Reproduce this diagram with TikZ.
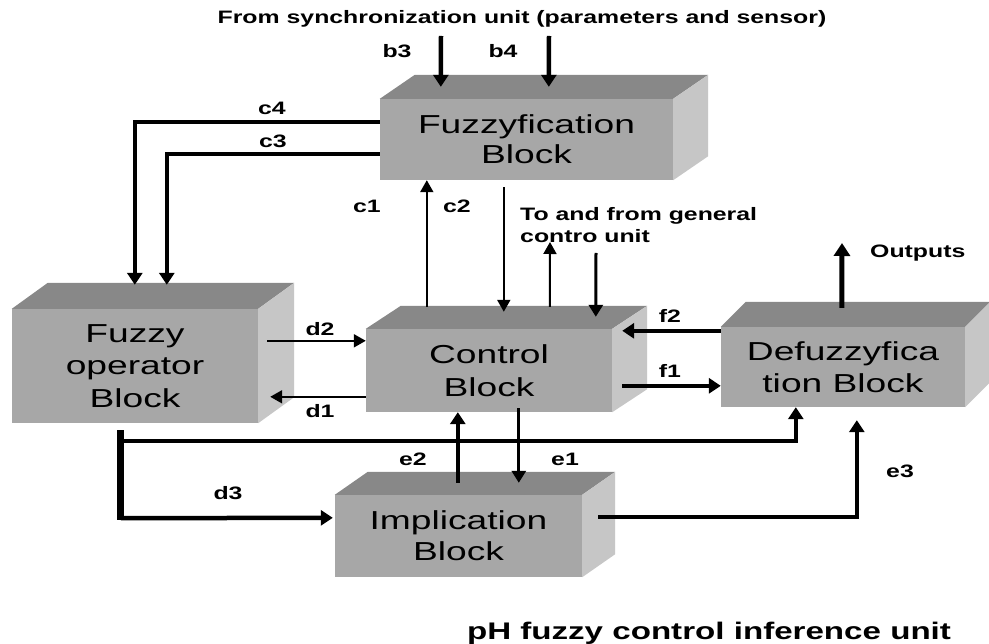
\documentclass[tikz,border=0pt]{standalone}
\usepackage{fontspec}
\setmainfont{Liberation Sans}
\usepackage{graphicx}
\usetikzlibrary{arrows.meta}
\definecolor{frontc}{HTML}{A7A7A7}
\definecolor{topc}{HTML}{888888}
\definecolor{sidec}{HTML}{C6C6C6}
\newcommand{\sx}[2][1.38]{\scalebox{#1}[1]{#2}}
\newcommand{\boxfaces}[3]{%
  \fill[topc] (#1.north west) -- ++(#2,-#3) -- ([shift={(#2,-#3)}]#1.north east) -- (#1.north east) -- cycle;
  \fill[sidec] (#1.north east) -- ++(#2,-#3) -- ([shift={(#2,-#3)}]#1.south east) -- (#1.south east) -- cycle;}
\tikzset{
  blk/.style={fill=frontc, inner sep=0pt, align=center},
  lbl/.style={font=\bfseries\fontsize{18}{22}\selectfont, anchor=base, inner sep=0pt},
  thk/.style={line width=4.5pt, -{Triangle[width=15pt,length=12pt]}},
  thn/.style={line width=2pt, -{Triangle[width=13pt,length=12pt]}},
  mid/.style={line width=3pt, -{Triangle[width=14pt,length=12pt]}}
}
\begin{document}
\begin{tikzpicture}[x=1pt,y=-1pt]
\fill[white] (0,0) rectangle (989,644);
\useasboundingbox (0,0) rectangle (989,644);

% blocks (front faces)
\node[blk, minimum width=293pt, minimum height=81pt, font=\fontsize{26}{30}\selectfont] (fz) at (526.5,139.5) {\sx[1.43]{Fuzzyfication}\\\sx[1.43]{Block}};
\node[blk, minimum width=246pt, minimum height=114pt, font=\fontsize{26}{32.5}\selectfont] (fo) at (135,366) {\sx[1.43]{Fuzzy}\\\sx[1.43]{operator}\\\sx[1.43]{Block}};
\node[blk, minimum width=246pt, minimum height=83pt, font=\fontsize{26}{33}\selectfont] (cb) at (489,370.5) {\sx[1.43]{Control}\\\sx[1.43]{Block}};
\node[blk, minimum width=244pt, minimum height=80pt, font=\fontsize{26}{32}\selectfont] (df) at (843,367) {\sx[1.43]{Defuzzyfica}\\\sx[1.43]{tion Block}};
\node[blk, minimum width=247pt, minimum height=82pt, font=\fontsize{26}{31}\selectfont] (im) at (458.5,536) {\sx[1.43]{Implication}\\\sx[1.43]{Block}};

\boxfaces{fz}{35}{24}
\boxfaces{fo}{36}{26}
\boxfaces{cb}{35}{23}
\boxfaces{df}{25}{25}
\boxfaces{im}{33}{23}

% free ends
\coordinate (b3s) at (441,36);
\coordinate (b4s) at (549,36);
\coordinate (gup) at (550,242);
\coordinate (gdn) at (596,253);
\coordinate (outp) at (842,243);

% texts
\node[lbl] (title) at (522,24) {\sx{From synchronization unit (parameters and sensor)}};
\node[lbl] (lb3) at (397,58) {\sx{b3}};
\node[lbl] (lb4) at (503,58) {\sx{b4}};
\node[lbl] (lc4) at (272,115) {\sx{c4}};
\node[lbl] (lc3) at (273,148) {\sx{c3}};
\node[lbl] (lc1) at (367,213) {\sx{c1}};
\node[lbl] (lc2) at (457,213) {\sx{c2}};
\node[font=\bfseries\fontsize{18}{22}\selectfont, anchor=north west, inner sep=0pt, align=left] (gen) at (520,207) {\sx{To and from general}\\\sx{contro unit}};
\node[lbl, anchor=base west] (lout) at (870,258) {\sx{Outputs}};
\node[lbl] (lf2) at (670,323) {\sx{f2}};
\node[lbl] (lf1) at (670,378) {\sx{f1}};
\node[lbl] (ld2) at (320,336) {\sx{d2}};
\node[lbl] (ld1) at (320,418) {\sx{d1}};
\node[lbl] (ld3) at (228,500) {\sx{d3}};
\node[lbl] (le2) at (413,466) {\sx{e2}};
\node[lbl] (le1) at (565,466) {\sx{e1}};
\node[lbl] (le3) at (900,478) {\sx{e3}};
\node[lbl, font=\bfseries\fontsize{24}{28}\selectfont] (bottom) at (709,639) {\sx{pH fuzzy control inference unit}};

% connectors
\draw[thk] (b3s) -- ([shift={(61,-12)}]fz.north west);
\draw[thk] (b4s) -- ([shift={(169,-12)}]fz.north west);
\draw[thk] ([shift={(0,23)}]fz.north west) -| ([shift={(123,-24)}]fo.north west);
\draw[thk] ([shift={(0,55)}]fz.north west) -| ([shift={(155,-24)}]fo.north west);
\draw[thn] ([shift={(61,-22)}]cb.north west) -- ([shift={(47,0)}]fz.south west);
\draw[thn] ([shift={(124,7)}]fz.south west) -- ([shift={(138,-17)}]cb.north west);
\draw[thn] ([shift={(184,-22)}]cb.north west) -- (gup);
\draw[mid] (gdn) -- ([shift={(230,-12)}]cb.north west);
\draw[line width=5pt, -{Triangle[width=16pt,length=13pt]}] ([shift={(121,-19)}]df.north west) -- (outp);
\draw[thk] ([shift={(0,4)}]df.north west) -- ([shift={(10,2)}]cb.north east);
\draw[thk] ([shift={(10,57)}]cb.north east) -- ([shift={(0,59)}]df.north west);
\draw[thn] ([shift={(9,32)}]fo.north east) -- ([shift={(0,12)}]cb.north west);
\draw[thn] ([shift={(0,68)}]cb.north west) -- ([shift={(12,88)}]fo.north east);
\draw[line width=7pt] ([shift={(109,7)}]fo.south west) -- ([shift={(109,97)}]fo.south west);
\draw[thk] ([shift={(109,95)}]fo.south west) -- ([shift={(-2,23)}]im.north west);
\draw[thk] ([shift={(109,18)}]fo.south west) -| ([shift={(75,0)}]df.south west);
\draw[thk] ([shift={(123,-12)}]im.north west) -- ([shift={(92,0)}]cb.south west);
\draw[mid] ([shift={(153,-4)}]cb.south west) -- ([shift={(184,-12)}]im.north west);
\draw[thk] ([shift={(16,22)}]im.north east) -| ([shift={(136,13)}]df.south west);
\end{tikzpicture}
\end{document}
